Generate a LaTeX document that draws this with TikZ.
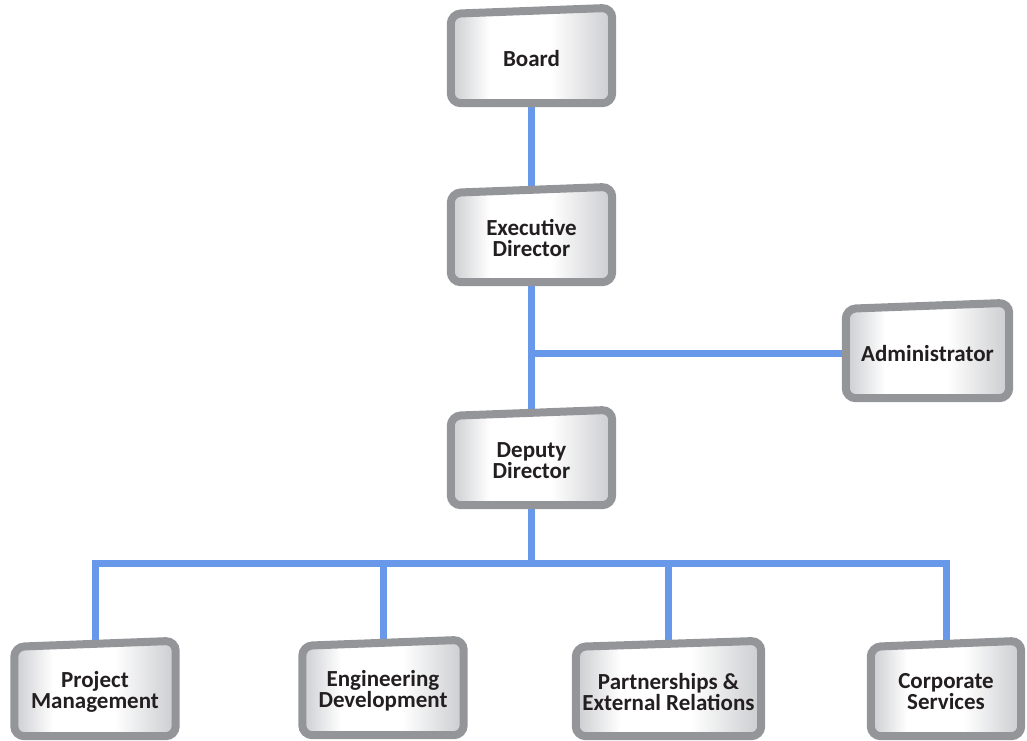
\documentclass[tikz,border=0pt]{standalone}
\usepackage{fontspec}
\setmainfont{Carlito}
\usetikzlibrary{calc}
\definecolor{linkblue}{RGB}{104,152,234}
\definecolor{framegray}{RGB}{147,149,152}
\definecolor{fillgray}{RGB}{203,204,207}
\definecolor{textblack}{RGB}{35,31,32}
\pgfdeclarehorizontalshading{boxfill}{100bp}{color(0bp)=(fillgray); color(25bp)=(fillgray); color(37bp)=(white); color(56bp)=(white); color(75bp)=(fillgray); color(100bp)=(fillgray)}
\pgfdeclarelayer{lines}
\pgfdeclarelayer{background}
\pgfsetlayers{lines,background,main}
\tikzset{
  unit/.style={minimum width=161pt, minimum height=89pt, inner sep=0pt, align=center,
    text=textblack, font=\fontsize{23}{21}\selectfont\bfseries},
  frame/.style={draw=framegray, line width=8pt, rounded corners=10pt, shading=boxfill},
  link/.style={draw=linkblue, line width=7pt}
}
\newcommand{\unitbox}[4][]{
  \node[unit,#1] (#2) at (#3) {#4};
  \begin{pgfonlayer}{background}
  \path[frame] (#2.south west) -- (#2.north west) -- ([yshift=6pt]#2.north east) -- (#2.south east) -- cycle;
  \end{pgfonlayer}
}
\begin{document}
\begin{tikzpicture}[x=1pt, y=-1pt]
\useasboundingbox (0,0) rectangle (1027,740);

\unitbox{board}{531.5, 58.5}{Board}
\unitbox{exec}{531.5, 237.5}{Executive\\Director}
\unitbox[minimum width=163pt]{adm}{927.5, 353.5}{Administrator}
\unitbox{dep}{531.5, 460.5}{Deputy\\Director}

\unitbox{pm}{95, 691.5}{Project\\Management}
\unitbox{eng}{383, 690.5}{Engineering\\Development}
\unitbox[minimum width=185pt]{per}{668.5, 691.5}{Partnerships \&\\External Relations}
\unitbox[minimum width=150pt]{cor}{946, 691.5}{Corporate\\Services}

\coordinate (bar) at (531.5, 563);

\begin{pgfonlayer}{lines}
\draw[link] (board.south) -- (exec.north);
\draw[link] (exec.south) -- (dep.north);
\draw[link] (adm.west) -- (adm.west -| exec.south);
\draw[link] (dep.south) -- (bar);
\draw[link] (pm.north) |- (bar);
\draw[link] (eng.north) |- (bar);
\draw[link] (per.north) |- (bar);
\draw[link] (cor.north) |- (bar);
\end{pgfonlayer}
\end{tikzpicture}
\end{document}
